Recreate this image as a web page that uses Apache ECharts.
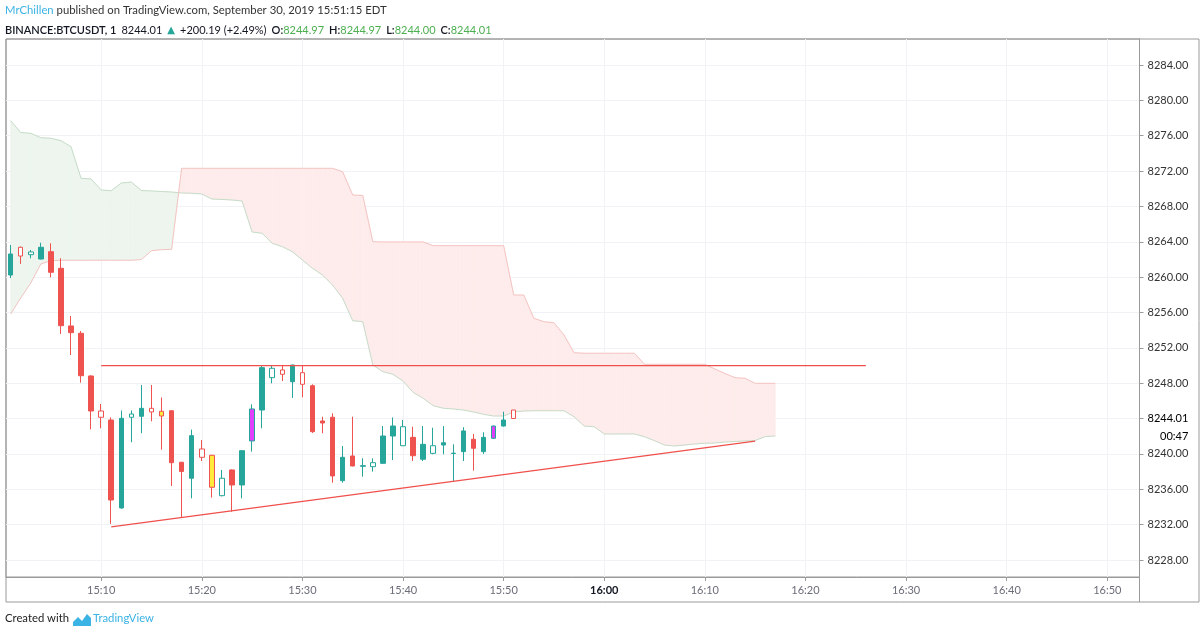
<!DOCTYPE html>
<html>
<head>
<meta charset="utf-8">
<script src="https://cdn.jsdelivr.net/npm/echarts@6/dist/echarts.min.js"></script>
<style>
html,body{margin:0;padding:0;background:#fff;}
#chart{width:1200px;height:635px;}
</style>
</head>
<body>
<div id="chart"></div>
<script>
// ---- data (x = minutes after 15:00) ----
const candleMinutes = [1,2,3,4,5,6,7,8,9,10,11,12,13,14,15,16,17,18,19,20,21,22,23,24,25,26,27,28,29,30,31,32,33,34,35,36,37,38,39,40,41,42,43,44,45,46,47,48,49,50,51];
const opens  = [8260.24,8263.38,8262.54,8262.05,8262.88,8261.00,8254.48,8253.65,8248.82,8244.86,8243.84,8233.89,8244.15,8244.26,8245.16,8244.83,8244.89,8239.06,8237.25,8240.56,8239.85,8235.28,8238.19,8236.49,8241.47,8244.97,8248.63,8249.50,8248.17,8249.19,8247.72,8243.73,8244.15,8236.98,8239.77,8238.60,8238.56,8238.94,8242.03,8240.93,8241.88,8239.40,8240.07,8241.01,8240.05,8240.26,8241.66,8240.26,8241.77,8243.16,8244.97];
const closes = [8262.62,8262.39,8262.85,8263.38,8260.55,8254.51,8253.72,8248.85,8244.86,8244.15,8234.79,8244.03,8244.52,8245.16,8244.75,8244.29,8239.01,8238.02,8242.07,8239.62,8236.23,8237.25,8236.49,8240.37,8245.09,8249.76,8249.69,8249.01,8250.06,8247.88,8242.52,8243.50,8237.51,8239.62,8238.64,8238.67,8239.01,8242.03,8243.16,8243.08,8239.80,8241.09,8240.93,8241.27,8240.09,8242.60,8240.64,8241.88,8243.16,8243.84,8244.01];
const lows   = [8259.90,8261.49,8262.13,8262.00,8259.98,8253.57,8251.19,8248.06,8242.79,8242.90,8232.08,8233.80,8241.32,8242.34,8243.69,8240.48,8236.38,8232.81,8234.98,8239.20,8235.05,8235.20,8233.47,8234.98,8240.26,8242.90,8247.99,8248.25,8246.33,8246.41,8242.37,8242.34,8236.75,8236.75,8238.60,8237.43,8238.00,8238.90,8239.32,8240.90,8239.20,8239.20,8239.96,8239.96,8236.94,8239.20,8238.11,8240.00,8241.70,8243.10,8244.00];
const highs  = [8263.64,8263.45,8263.07,8263.90,8263.83,8262.13,8255.61,8253.91,8248.90,8245.65,8244.13,8244.92,8244.92,8247.80,8247.80,8246.39,8244.95,8239.10,8242.75,8241.58,8239.90,8238.19,8238.25,8240.40,8245.62,8250.06,8249.95,8250.06,8250.10,8249.95,8247.88,8244.21,8244.60,8240.90,8244.21,8239.51,8239.50,8243.16,8244.13,8243.84,8243.08,8243.16,8242.97,8243.16,8241.09,8243.02,8242.26,8242.45,8243.20,8244.78,8244.97];
// u = teal, d = red, U = hollow teal, D = hollow red, y = yellow, m = magenta
const candleKinds = ['u','D','U','u','d','d','d','d','d','D','d','u','U','u','D','y','d','d','u','D','y','U','d','u','m','u','U','D','u','D','d','d','d','u','d','u','U','u','u','U','d','u','U','u','u','u','d','u','m','u','D'];

const cloudMinutes = [1,2,3,4,5,6,7,8,9,10,11,12,13,14,15,16,17,18,19,20,21,22,23,24,25,26,27,28,29,30,31,32,33,34,35,36,37,38,39,40,41,42,43,44,45,46,47,48,49,50,51,52,53,54,55,56,57,58,59,60,61,62,63,64,65,66,67,68,69,70,71,72,73,74,75,76,77];
const leadA = [8277.70,8276.36,8276.27,8275.78,8275.71,8275.44,8274.76,8271.18,8271.10,8269.86,8269.78,8270.65,8270.76,8269.80,8269.75,8269.69,8269.63,8269.52,8269.49,8269.41,8268.84,8268.79,8268.73,8268.62,8265.11,8264.96,8263.83,8263.45,8262.88,8261.94,8261.00,8260.24,8259.11,8257.61,8255.07,8254.96,8250.06,8249.31,8249.01,8248.25,8246.97,8246.30,8245.46,8245.17,8245.09,8244.97,8244.75,8244.49,8244.29,8244.29,8244.75,8244.86,8244.89,8244.89,8244.89,8244.89,8244.21,8243.16,8243.08,8242.26,8242.26,8242.26,8242.26,8241.95,8241.50,8241.01,8240.90,8241.01,8241.13,8241.21,8241.24,8241.35,8241.41,8241.47,8241.52,8241.97,8242.03];
const leadB = [8255.83,8257.64,8259.34,8261.49,8261.86,8261.91,8261.91,8261.91,8261.91,8261.91,8261.91,8261.91,8261.91,8262.00,8262.99,8263.11,8263.15,8272.31,8272.31,8272.31,8272.31,8272.31,8272.31,8272.31,8272.31,8272.31,8272.31,8272.31,8272.31,8272.31,8272.31,8272.31,8272.31,8271.93,8269.29,8269.24,8264.01,8263.98,8263.98,8263.98,8263.98,8263.98,8263.56,8263.56,8263.56,8263.56,8263.56,8263.56,8263.56,8263.56,8257.98,8257.98,8255.35,8254.96,8254.85,8253.46,8251.45,8251.39,8251.39,8251.39,8251.39,8251.39,8251.39,8250.14,8250.14,8250.14,8250.14,8250.14,8250.14,8250.14,8249.61,8249.10,8248.63,8248.56,8247.99,8247.99,8247.99];

const resistanceLine = [[10, 8250.00], [86, 8250.00]];
const supportLine = [[11, 8231.74], [75, 8241.45]];

const priceTicks = [8228,8232,8236,8240,8244,8248,8252,8256,8260,8264,8268,8272,8276,8280,8284];
const timeTicks = [10,20,30,40,50,60,70,80,90,100,110];
const countdown = '00:47';
const changeText = '+200.19 (+2.49%)';

// ---- styles ----
const TEAL = '#26a69a', RED = '#ef5350';
const kindStyle = {
  u: {fill: TEAL, border: TEAL},
  d: {fill: RED, border: RED},
  U: {fill: '#ffffff', border: TEAL},
  D: {fill: '#ffffff', border: RED},
  y: {fill: '#ffeb3b', border: RED},
  m: {fill: '#e040fb', border: TEAL}
};
const GREEN_FILL = '#edf5ee', RED_FILL = '#fdeceb';
const FONT = 'Lato';
const HFS = 11.3;
const HFS2 = 11;

const n = candleMinutes.length;
const lastClose = closes[n - 1];
// the last-price label replaces the regular label that would collide with it
const priceLabelValues = priceTicks.filter(v => Math.abs(v - lastClose) > 1.5);

const candleData = candleMinutes.map((m, i) => {
  const s = kindStyle[candleKinds[i]];
  return {
    value: [m, opens[i], closes[i], lows[i], highs[i]],
    itemStyle: {color: s.fill, color0: s.fill, borderColor: s.border, borderColor0: s.border, borderWidth: 1}
  };
});

const cloudData = cloudMinutes.map((m, i) => [m, leadA[i], leadB[i]]);

function poly(points, color) {
  return {type: 'polygon', shape: {points: points}, style: {fill: color, stroke: color, lineWidth: 0.6}};
}

function renderCloud(params, api) {
  const i = params.dataIndex;
  if (i >= cloudData.length - 1) return null;
  const [m0, a0, b0] = cloudData[i];
  const [m1, a1, b1] = cloudData[i + 1];
  const d0 = a0 - b0, d1 = a1 - b1;
  const C = v => api.coord(v);
  const col = d => (d >= 0 ? GREEN_FILL : RED_FILL);
  const children = [];
  if (d0 * d1 >= 0) {
    children.push(poly([C([m0, a0]), C([m1, a1]), C([m1, b1]), C([m0, b0])], col(d0 !== 0 ? d0 : d1)));
  } else {
    const t = d0 / (d0 - d1);
    const mx = m0 + t * (m1 - m0), px = a0 + t * (a1 - a0);
    children.push(poly([C([m0, a0]), C([mx, px]), C([m0, b0])], col(d0)));
    children.push(poly([C([mx, px]), C([m1, a1]), C([m1, b1])], col(d1)));
  }
  return {type: 'group', children: children};
}

function timeLabel(m) {
  const h = 15 + Math.floor(m / 60);
  const mm = m % 60;
  const s = h + ':' + (mm < 10 ? '0' + mm : mm);
  return mm === 0 ? '{b|' + s + '}' : s;
}

const Y_MIN = 8226.08, Y_MAX = 8286.94;
const X_MIN = 0.54, X_MAX = 113.2;

const chart = echarts.init(document.getElementById('chart'), null, {renderer: 'canvas'});
chart.setOption({
  animation: false,
  backgroundColor: '#ffffff',
  title: [
    {
      left: 5, top: 5, padding: 0,
      text: '{a|MrChillen}{b| published on TradingView.com, September 30, 2019 15:51:15 EDT}',
      textStyle: {fontWeight: 'normal', rich: {
        a: {color: '#3bb3e4', fontSize: HFS, fontFamily: FONT, fontWeight: 'normal'},
        b: {color: '#333333', fontSize: HFS, fontFamily: FONT, fontWeight: 'normal'}
      }}
    },
    {
      left: 5, top: 21, padding: 0,
      text: '{s|BINANCE:BTCUSDT, 1} {n|' + lastClose.toFixed(2) + '} {g|▲} {n|' + changeText + '} ' +
            '{s|O:}{v|' + opens[n-1].toFixed(2) + '} {s|H:}{v|' + highs[n-1].toFixed(2) + '} ' +
            '{s|L:}{v|' + lows[n-1].toFixed(2) + '} {s|C:}{v|' + closes[n-1].toFixed(2) + '}',
      textStyle: {fontWeight: 'normal', rich: {
        s: {color: '#131722', fontSize: HFS2, fontFamily: FONT, fontWeight: 600},
        n: {color: '#131722', fontSize: HFS2, fontFamily: FONT, fontWeight: 'normal'},
        g: {color: '#26a69a', fontSize: 10, fontFamily: 'DejaVu Sans', fontWeight: 'normal'},
        v: {color: '#4caf50', fontSize: HFS2, fontFamily: FONT, fontWeight: 'normal'}
      }}
    },
    {
      left: 5, top: 613, padding: 0,
      text: 'Created with',
      textStyle: {color: '#222', fontSize: HFS, fontFamily: FONT, fontWeight: 'normal'}
    },
    {
      left: 93, top: 613, padding: 0,
      text: 'TradingView',
      textStyle: {color: '#3bb3e4', fontSize: HFS, fontFamily: FONT, fontWeight: 'normal'}
    }
  ],
  graphic: [
    {type: 'rect', shape: {x: 6, y: 39, width: 1193, height: 563}, style: {fill: 'none', stroke: '#9a9a9a', lineWidth: 1}, silent: true},
    {type: 'line', shape: {x1: 1139.5, y1: 577, x2: 1139.5, y2: 602}, style: {stroke: '#9a9a9a', lineWidth: 1}, silent: true},
    {type: 'polygon', shape: {points: [[73,626],[73,622],[78,617],[82,621],[87,614],[91,618],[91,626]]}, style: {fill: '#3bb3e4'}, silent: true}
  ],
  grid: {left: 6, top: 39, width: 1133.5, height: 538, show: true, borderColor: '#9a9a9a', borderWidth: 1, backgroundColor: 'transparent'},
  xAxis: {
    type: 'value', min: X_MIN, max: X_MAX,
    axisLine: {show: true, lineStyle: {color: '#9a9a9a'}},
    axisTick: {show: true, length: 4, customValues: timeTicks, lineStyle: {color: '#9a9a9a'}},
    axisLabel: {
      customValues: timeTicks, formatter: timeLabel, color: '#6a6d78', fontSize: 11, fontFamily: FONT, margin: 8,
      rich: {b: {color: '#131722', fontSize: 11, fontFamily: FONT, fontWeight: 'bold'}}
    },
    splitLine: {show: true, lineStyle: {color: '#f0f2f5', width: 1}}
  },
  yAxis: [
    {
      type: 'value', position: 'right', min: Y_MIN, max: Y_MAX, scale: true,
      axisLine: {show: true, lineStyle: {color: '#9a9a9a'}},
      axisTick: {show: true, length: 4, customValues: priceLabelValues, lineStyle: {color: '#9a9a9a'}},
      axisLabel: {customValues: priceLabelValues, formatter: v => v.toFixed(2), color: '#333333', fontSize: 11, fontFamily: FONT, margin: 8},
      splitLine: {show: false}
    },
    {
      type: 'value', position: 'right', min: Y_MIN, max: Y_MAX, scale: true,
      axisLine: {show: false},
      axisTick: {show: false, customValues: priceTicks},
      axisLabel: {show: false, customValues: priceTicks},
      splitLine: {show: true, lineStyle: {color: '#f0f2f5', width: 1}}
    },
    {
      type: 'value', position: 'right', min: Y_MIN, max: Y_MAX, scale: true,
      axisLine: {show: false},
      splitLine: {show: false},
      axisTick: {show: true, length: 4, customValues: [lastClose], lineStyle: {color: '#9a9a9a'}},
      axisLabel: {
        customValues: [lastClose], margin: 8,
        formatter: v => '{e|.}\n{p|' + v.toFixed(2) + '}\n{t|' + countdown + '}',
        rich: {
          e: {color: 'rgba(0,0,0,0)', fontSize: 11, lineHeight: 18, fontFamily: FONT},
          p: {color: '#000000', fontSize: 11, lineHeight: 18, fontFamily: FONT},
          t: {color: '#000000', fontSize: 11, lineHeight: 18, fontFamily: FONT, align: 'right'}
        }
      }
    }
  ],
  series: [
    {
      type: 'custom', name: 'cloud', z: 1, silent: true, clip: true,
      data: cloudData, encode: {x: 0, y: [1, 2]},
      renderItem: renderCloud
    },
    {
      type: 'line', name: 'Lead 1', z: 2, symbol: 'none', silent: true,
      data: cloudMinutes.map((m, i) => [m, leadA[i]]),
      lineStyle: {color: '#c6dcc8', width: 1}
    },
    {
      type: 'line', name: 'Lead 2', z: 2, symbol: 'none', silent: true,
      data: cloudMinutes.map((m, i) => [m, leadB[i]]),
      lineStyle: {color: '#f4c4c2', width: 1}
    },
    {
      type: 'candlestick', name: 'BTCUSDT', z: 3, barWidth: 5,
      data: candleData
    },
    {
      type: 'line', name: 'resistance', z: 4, symbol: 'none', silent: true,
      data: resistanceLine, lineStyle: {color: '#f0504c', width: 1.2}
    },
    {
      type: 'line', name: 'support', z: 4, symbol: 'none', silent: true,
      data: supportLine, lineStyle: {color: '#f0504c', width: 1.2}
    }
  ]
});
</script>
</body>
</html>
